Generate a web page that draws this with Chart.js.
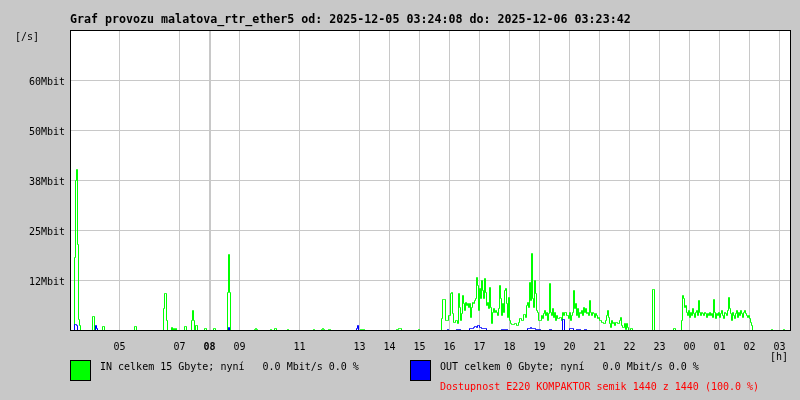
<!DOCTYPE html>
<html>
<head>
<meta charset="utf-8">
<script src="https://cdn.jsdelivr.net/npm/chart.js@4"></script>
<style>
  html, body { margin: 0; padding: 0; background: #c8c8c8; }
  #wrap { position: relative; width: 800px; height: 400px; overflow: hidden; }
  canvas { position: absolute; left: 0; top: 0; }
  .t { position: absolute; font-family: "DejaVu Sans Mono", monospace; font-size: 10px; line-height: 12px; white-space: pre; color: #000; }
  .title { font-weight: bold; font-size: 11.65px; line-height: 14px; }
  .red { color: #ff0000; }
  .box { position: absolute; width: 19px; height: 19px; border: 1px solid #000; }
</style>
</head>
<body>
<div id="wrap">
  <canvas id="c" width="800" height="400"></canvas>
  <div class="t title" style="left:70px; top:12px;">Graf provozu malatova_rtr_ether5 od: 2025-12-05 03:24:08 do: 2025-12-06 03:23:42</div>
  <div class="t" style="left:15px; top:31px;">[/s]</div>
  <div class="t" style="left:770px; top:351px;">[h]</div>
  <div class="box" style="left:70px; top:360px; background:#00ff00;"></div>
  <div class="t" style="left:100px; top:361px;">IN celkem 15 Gbyte; nyní   0.0 Mbit/s 0.0 %</div>
  <div class="box" style="left:410px; top:360px; background:#0000ff;"></div>
  <div class="t" style="left:440px; top:361px;">OUT celkem 0 Gbyte; nyní   0.0 Mbit/s 0.0 %</div>
  <div class="t red" style="left:440px; top:381px;">Dostupnost E220 KOMPAKTOR semik 1440 z 1440 (100.0 %)</div>
</div>
<script>
// Time axis: minutes after 2025-12-05 00:00, one sample every 2 minutes.
const X_MIN = 201;
const X_MAX = 1641;
const SAMPLE_MINUTES = 2;
const X_TICK_MINUTES = [300, 420, 480, 540, 660, 780, 840, 900, 960, 1020, 1080, 1140, 1200, 1260, 1320, 1380, 1440, 1500, 1560, 1620];
const X_TICK_LABELS = ["05","07","08","09","11","13","14","15","16","17","18","19","20","21","22","23","00","01","02","03"];
const X_MARK_MINUTE = 480; // the emphasised "08" line

// Value axis in Mbit/s
const Y_MIN = 0.125;
const Y_MAX = 75.125;
const Y_TICK_VALUES = [12.5, 25, 37.5, 50, 62.5];
const Y_TICK_LABELS = ["12Mbit", "25Mbit", "38Mbit", "50Mbit", "60Mbit"];

// IN traffic (Mbit/s): start minute of each burst and its consecutive 2-minute samples
const IN_RUN_STARTS = [210, 246, 266, 330, 388, 404, 430, 444, 470, 488, 516, 570, 602, 610, 636, 688, 704, 718, 782, 854, 898, 944, 1322, 1366, 1408, 1424, 1604, 1628];
const IN_RUN_VALUES = [
  [0, 18.25, 37.5, 40.25, 21.5, 2.75, 1.25, 0],
  [0, 3.5, 3.5, 0],
  [0, 1, 1, 0],
  [0, 1, 1, 0],
  [0, 5.5, 9.25, 9.25, 2.5, 0],
  [0, 0.75, 0, 0.5, 0, 0.5, 0],
  [0, 1, 1, 0],
  [0, 2.5, 5, 2.5, 0, 1.25, 1.25, 0],
  [0, 0.5, 0.5, 0],
  [0, 0.5, 0.5, 0],
  [0, 9.5, 19, 9.5, 0],
  [0, 0.25, 0.5, 0.25, 0],
  [0, 0.25, 0],
  [0, 0.5, 0.5, 0],
  [0, 0.25, 0],
  [0, 0.25, 0],
  [0, 0.25, 0.5, 0.25, 0],
  [0, 0.25, 0.25, 0],
  [0, 0.25, 0.25, 0.25, 0.25, 0],
  [0, 0.25, 0.25, 0.5, 0.5, 0.5, 0],
  [0, 0.25, 0],
  [0, 3, 7.75, 7.75, 7.75, 2.5, 2.5, 2.5, 3.75, 3.75,
   9.25, 9.5, 4.25, 2, 2, 2.5, 2.5, 1.75, 9.25, 5.75,
   2.5, 4.25, 8.75, 6.75, 5, 7, 6.25, 6.75, 5.75, 6.75,
   3.25, 5.75, 7, 6.75, 7.5, 8, 13.25, 11.25, 5, 10.5,
   8, 12.5, 10, 8, 13, 9.5, 6.25, 7, 5.5, 10.75,
   5.75, 1.75, 4.5, 5.5, 4.5, 5, 4.5, 3.75, 5.5, 11.25,
   8, 3.75, 6.75, 4.5, 10, 10.5, 6.75, 3.25, 8.25, 2.5,
   1.75, 1.5, 1.5, 1.5, 1.75, 1.75, 1.25, 1.25, 2, 3,
   3, 2.5, 2.5, 4, 4, 3.25, 6.25, 7, 5.75, 12,
   7.5, 19.25, 8, 5.75, 12.5, 9.25, 5, 4.5, 2.5, 2.5,
   2.5, 3.75, 3, 4.25, 5, 3.75, 4.5, 2.5, 4.25, 11.75,
   4.5, 3.75, 5.5, 3.25, 4.5, 2.5, 3.75, 3, 3, 3.25,
   3.25, 2.5, 4.5, 3.75, 4.5, 4.5, 3.75, 3.75, 3, 4.5,
   2.5, 3.75, 4.5, 10, 5.5, 6.75, 3.75, 5.5, 3.25, 4.5,
   4.25, 5, 3.75, 5.75, 4.5, 5.5, 4.25, 4.5, 3.75, 7.5,
   4.5, 3.75, 4.5, 4.25, 3.25, 4.25, 3.75, 3, 3.25, 2.5,
   2.5, 2, 2, 1.75, 1.75, 2.5, 3.75, 5, 3.25, 1.75,
   0.75, 2.5, 1.75, 2, 1.25, 2, 2, 1.75, 1.75, 2.5,
   3.25, 1.25, 0.75, 0.75, 1.75, 0.25, 1.75, 0.75, 0],
  [0, 0.5, 0.5, 0],
  [0, 10.25, 10.25, 0],
  [0, 0.5, 0.5, 0],
  [0, 2.5, 8.75, 8, 5.75, 6.25, 4.5, 3.75, 5, 3.25,
   4.5, 3.75, 5.5, 4.25, 3.25, 4.5, 5, 3.75, 7.5, 4.5,
   3.75, 4.5, 4.25, 3.75, 4.5, 4.25, 3.25, 4.25, 3.75, 4.5,
   3.75, 4.25, 3.25, 7.75, 4.5, 3, 4.25, 3.75, 4.5, 3.25,
   4.25, 5, 3.75, 3, 4.5, 4.25, 3.75, 5, 8.25, 5.5,
   4.25, 2.5, 4.5, 3.75, 3, 4.25, 5, 3.25, 4.5, 3.75,
   5, 4.25, 3.25, 4.5, 5, 4.25, 3.75, 3.25, 3.75, 3,
   2, 1.25, 0],
  [0, 0.25, 0],
  [0, 0.25, 0]
];

// OUT traffic (Mbit/s)
const OUT_RUN_STARTS = [210, 252, 518, 774, 956, 974, 1000, 1064, 1116, 1160, 1186, 1200, 1214, 1230];
const OUT_RUN_VALUES = [
  [0, 1.5, 1.5, 1.25, 0],
  [0, 1.25, 0.5, 0],
  [0, 0.75, 0],
  [0, 0.5, 1.25, 0],
  [0, 0.25, 0],
  [0, 0.25, 0.25, 0.25, 0.25, 0],
  [0, 0.5, 0.5, 0.5, 0.5, 0.75, 1, 1, 0.75, 1.25, 1.25, 0.75, 0.75, 0.5, 0.5, 0.5, 0.5, 0.5, 0],
  [0, 0.25, 0.25, 0.25, 0.25, 0.25, 0.25, 0],
  [0, 0.5, 0.5, 0.5, 0.75, 0.5, 0.5, 0.5, 0.5, 0.25, 0.25, 0.25, 0.25, 0.25, 0],
  [0, 0.25, 0.25, 0],
  [0, 2.75, 2.75, 0],
  [0, 0.5, 0.5, 0.5, 0.5, 0],
  [0, 0.25, 0.25, 0.25, 0.25, 0],
  [0, 0.25, 0.25, 0]
];

function toPoints(starts, runs) {
  const pts = [];
  starts.forEach((s, i) => {
    runs[i].forEach((v, j) => pts.push({ x: s + j * SAMPLE_MINUTES, y: v }));
  });
  return pts;
}

const GRID = '#c8c8c8';
const FONT = "'DejaVu Sans Mono', monospace";

const framePlugin = {
  id: 'frame',
  beforeDraw(chart) {
    const { ctx, chartArea: a } = chart;
    ctx.save();
    ctx.fillStyle = '#c8c8c8';
    ctx.fillRect(0, 0, chart.width, chart.height);
    ctx.fillStyle = '#ffffff';
    ctx.fillRect(a.left, a.top, a.right - a.left, a.bottom - a.top);
    ctx.restore();
  },
  afterDatasetsDraw(chart) {
    const { ctx, chartArea: a } = chart;
    ctx.save();
    ctx.fillStyle = '#000000';
    ctx.fillRect(a.left, a.top, a.right - a.left + 1, 1);
    ctx.fillRect(a.left, a.bottom, a.right - a.left + 1, 1);
    ctx.fillRect(a.left, a.top, 1, a.bottom - a.top + 1);
    ctx.fillRect(a.right, a.top, 1, a.bottom - a.top + 1);
    ctx.restore();
  }
};

new Chart(document.getElementById('c'), {
  type: 'line',
  data: {
    datasets: [
      { label: 'IN', data: toPoints(IN_RUN_STARTS, IN_RUN_VALUES), borderColor: '#00ff00', order: 1 },
      { label: 'OUT', data: toPoints(OUT_RUN_STARTS, OUT_RUN_VALUES), borderColor: '#0000ff', order: 0 }
    ]
  },
  options: {
    responsive: false,
    devicePixelRatio: 1,
    animation: false,
    parsing: false,
    normalized: true,
    layout: { padding: { top: 30, right: 10, left: 0, bottom: 0 } },
    elements: {
      line: { borderWidth: 1, stepped: 'after', tension: 0, fill: false },
      point: { radius: 0, hoverRadius: 0 }
    },
    plugins: { legend: { display: false }, tooltip: { enabled: false }, title: { display: false } },
    events: [],
    scales: {
      x: {
        type: 'linear',
        min: X_MIN,
        max: X_MAX,
        afterBuildTicks: (s) => { s.ticks = X_TICK_MINUTES.map(v => ({ value: v })); },
        afterFit: (s) => { s.height = 70; },
        border: { display: false },
        grid: {
          color: GRID,
          drawTicks: false,
          lineWidth: (c) => (c.tick && c.tick.value === X_MARK_MINUTE) ? 2 : 1
        },
        ticks: {
          autoSkip: false,
          maxRotation: 0,
          padding: 11,
          color: '#000',
          font: (c) => ({ family: FONT, size: 10, weight: (c.tick && c.tick.value === X_MARK_MINUTE) ? 'bold' : 'normal' }),
          callback: (v, i) => X_TICK_LABELS[i]
        }
      },
      y: {
        type: 'linear',
        min: Y_MIN,
        max: Y_MAX,
        afterBuildTicks: (s) => { s.ticks = Y_TICK_VALUES.map(v => ({ value: v })); },
        afterFit: (s) => { s.width = 70; },
        border: { display: false },
        grid: { color: GRID, drawTicks: false, lineWidth: 1 },
        ticks: {
          padding: 5,
          labelOffset: 2,
          color: '#000',
          font: { family: FONT, size: 10 },
          callback: (v, i) => Y_TICK_LABELS[i]
        }
      }
    }
  },
  plugins: [framePlugin]
});
</script>
</body>
</html>
